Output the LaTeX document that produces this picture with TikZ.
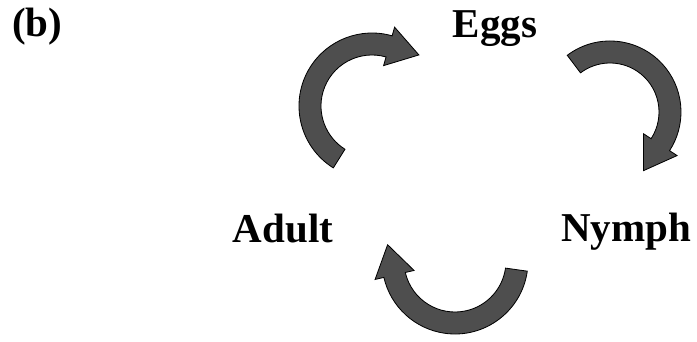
\documentclass[tikz,border=0pt]{standalone}
\usepackage{fontspec}
\setmainfont{Liberation Serif}
\usepackage{tikz}
\usetikzlibrary{calc}
\definecolor{Band}{HTML}{4E4E4E}
\tikzset{
  stagelabel/.style={inner sep=0pt,anchor=base,font=\bfseries\fontsize{35}{40}\selectfont},
  bentarrow/.style={fill=Band,draw=black,line width=0.7pt,line join=miter}
}
% curved arrow: centre, start angle, end angle, radius, head length
\newcommand{\bentarrow}[5]{%
  \pgfmathsetmacro\rout{#4+11}\pgfmathsetmacro\rin{#4-11}%
  \pgfmathsetmacro\hout{#4+20}\pgfmathsetmacro\hin{#4-20}%
  \filldraw[bentarrow] ($(#1)+(#2:\rout)$) arc[start angle=#2,end angle=#3,radius=\rout]
    -- ($(#1)+(#3:\hout)$) -- ($(#1)+(#3:#4)+({#3-90}:#5)$) -- ($(#1)+(#3:\hin)$)
    -- ($(#1)+(#3:\rin)$) arc[start angle=#3,end angle=#2,radius=\rin] -- cycle;
}

\begin{document}
\begin{tikzpicture}[x=0.3mm,y=0.3mm]
  \useasboundingbox (0,0) rectangle (697,-342);
  \node[stagelabel,anchor=base west] (panel) at (12,-37) {(b)};
  \node[stagelabel] (eggs) at (495,-38) {Eggs};
  \node[stagelabel] (nymph) at (626,-242) {Nymph};
  \node[stagelabel] (adult) at (283,-243) {Adult};
  % arrow centres
  \coordinate (toeggs) at (372,-106);
  \coordinate (tonymph) at (610,-112);
  \coordinate (toadult) at (455,-261);
  \bentarrow{toeggs}{238}{74}{62}{31}
  \bentarrow{tonymph}{127}{-33}{60}{31}
  \bentarrow{toadult}{-8}{-167}{62}{31}
\end{tikzpicture}
\end{document}
